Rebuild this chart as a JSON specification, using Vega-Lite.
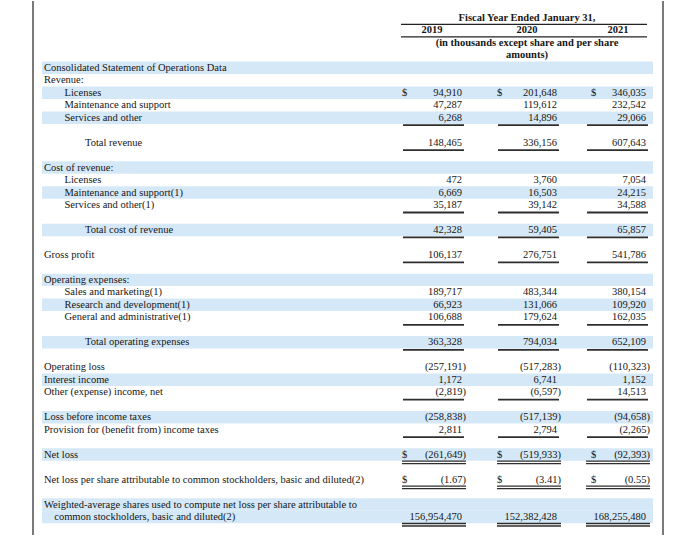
{
  "$schema": "https://vega.github.io/schema/vega-lite/v6.json",
  "width": 700,
  "height": 536,
  "autosize": {"type": "fit", "contains": "padding"},
  "padding": 0,
  "background": "#ffffff",
  "config": {
    "view": {"stroke": null},
    "axis": {"disable": true},
    "text": {"font": "Liberation Serif", "fontSize": 10.5, "color": "#161616", "baseline": "middle"}
  },
  "datasets": {
    "edges": [{"edge": "left"}, {"edge": "right"}],
    "shaded": [{"row": 4}, {"row": 6}, {"row": 8}, {"row": 12}, {"row": 14}, {"row": 17}, {"row": 21}, {"row": 23}, {"row": 26}, {"row": 29}, {"row": 32}, {"row": 35}, {"row": 39}, {"row": 40}],
    "header": [
      {"row": 0, "text": "Fiscal Year Ended January 31,", "col": 2020},
      {"row": 1, "text": "2019", "col": 2019},
      {"row": 1, "text": "2020", "col": 2020},
      {"row": 1, "text": "2021", "col": 2021},
      {"row": 2, "text": "(in thousands except share and per share", "col": 2020},
      {"row": 3, "text": "amounts)", "col": 2020}
    ],
    "headerRules": [{"row": 0}, {"row": 1}],
    "lines": [
      {"row": 4, "label": "Consolidated Statement of Operations Data", "indent": 0, "kind": "title"},
      {"row": 5, "label": "Revenue:", "indent": 0, "kind": "section"},
      {"row": 6, "label": "Licenses", "indent": 1, "kind": "item"},
      {"row": 7, "label": "Maintenance and support", "indent": 1, "kind": "item"},
      {"row": 8, "label": "Services and other", "indent": 1, "kind": "item"},
      {"row": 10, "label": "Total revenue", "indent": 2, "kind": "total"},
      {"row": 12, "label": "Cost of revenue:", "indent": 0, "kind": "section"},
      {"row": 13, "label": "Licenses", "indent": 1, "kind": "item"},
      {"row": 14, "label": "Maintenance and support(1)", "indent": 1, "kind": "item"},
      {"row": 15, "label": "Services and other(1)", "indent": 1, "kind": "item"},
      {"row": 17, "label": "Total cost of revenue", "indent": 2, "kind": "total"},
      {"row": 19, "label": "Gross profit", "indent": 0, "kind": "item"},
      {"row": 21, "label": "Operating expenses:", "indent": 0, "kind": "section"},
      {"row": 22, "label": "Sales and marketing(1)", "indent": 1, "kind": "item"},
      {"row": 23, "label": "Research and development(1)", "indent": 1, "kind": "item"},
      {"row": 24, "label": "General and administrative(1)", "indent": 1, "kind": "item"},
      {"row": 26, "label": "Total operating expenses", "indent": 2, "kind": "total"},
      {"row": 28, "label": "Operating loss", "indent": 0, "kind": "item"},
      {"row": 29, "label": "Interest income", "indent": 0, "kind": "item"},
      {"row": 30, "label": "Other (expense) income, net", "indent": 0, "kind": "item"},
      {"row": 32, "label": "Loss before income taxes", "indent": 0, "kind": "item"},
      {"row": 33, "label": "Provision for (benefit from) income taxes", "indent": 0, "kind": "item"},
      {"row": 35, "label": "Net loss", "indent": 0, "kind": "item"},
      {"row": 37, "label": "Net loss per share attributable to common stockholders, basic and diluted(2)", "indent": 0, "kind": "item"},
      {"row": 39, "label": "Weighted-average shares used to compute net loss per share attributable to", "indent": 0, "kind": "item"},
      {"row": 40, "label": "common stockholders, basic and diluted(2)", "indent": 0.5, "kind": "continuation"}
    ],
    "cells": [
      {"row": 6, "year": 2019, "value": 94910}, {"row": 6, "year": 2020, "value": 201648}, {"row": 6, "year": 2021, "value": 346035},
      {"row": 7, "year": 2019, "value": 47287}, {"row": 7, "year": 2020, "value": 119612}, {"row": 7, "year": 2021, "value": 232542},
      {"row": 8, "year": 2019, "value": 6268}, {"row": 8, "year": 2020, "value": 14896}, {"row": 8, "year": 2021, "value": 29066},
      {"row": 10, "year": 2019, "value": 148465}, {"row": 10, "year": 2020, "value": 336156}, {"row": 10, "year": 2021, "value": 607643},
      {"row": 13, "year": 2019, "value": 472}, {"row": 13, "year": 2020, "value": 3760}, {"row": 13, "year": 2021, "value": 7054},
      {"row": 14, "year": 2019, "value": 6669}, {"row": 14, "year": 2020, "value": 16503}, {"row": 14, "year": 2021, "value": 24215},
      {"row": 15, "year": 2019, "value": 35187}, {"row": 15, "year": 2020, "value": 39142}, {"row": 15, "year": 2021, "value": 34588},
      {"row": 17, "year": 2019, "value": 42328}, {"row": 17, "year": 2020, "value": 59405}, {"row": 17, "year": 2021, "value": 65857},
      {"row": 19, "year": 2019, "value": 106137}, {"row": 19, "year": 2020, "value": 276751}, {"row": 19, "year": 2021, "value": 541786},
      {"row": 22, "year": 2019, "value": 189717}, {"row": 22, "year": 2020, "value": 483344}, {"row": 22, "year": 2021, "value": 380154},
      {"row": 23, "year": 2019, "value": 66923}, {"row": 23, "year": 2020, "value": 131066}, {"row": 23, "year": 2021, "value": 109920},
      {"row": 24, "year": 2019, "value": 106688}, {"row": 24, "year": 2020, "value": 179624}, {"row": 24, "year": 2021, "value": 162035},
      {"row": 26, "year": 2019, "value": 363328}, {"row": 26, "year": 2020, "value": 794034}, {"row": 26, "year": 2021, "value": 652109},
      {"row": 28, "year": 2019, "value": -257191}, {"row": 28, "year": 2020, "value": -517283}, {"row": 28, "year": 2021, "value": -110323},
      {"row": 29, "year": 2019, "value": 1172}, {"row": 29, "year": 2020, "value": 6741}, {"row": 29, "year": 2021, "value": 1152},
      {"row": 30, "year": 2019, "value": -2819}, {"row": 30, "year": 2020, "value": -6597}, {"row": 30, "year": 2021, "value": 14513},
      {"row": 32, "year": 2019, "value": -258838}, {"row": 32, "year": 2020, "value": -517139}, {"row": 32, "year": 2021, "value": -94658},
      {"row": 33, "year": 2019, "value": 2811}, {"row": 33, "year": 2020, "value": 2794}, {"row": 33, "year": 2021, "value": -2265},
      {"row": 35, "year": 2019, "value": -261649}, {"row": 35, "year": 2020, "value": -519933}, {"row": 35, "year": 2021, "value": -92393},
      {"row": 37, "year": 2019, "value": -1.67, "unit": "per_share"}, {"row": 37, "year": 2020, "value": -3.41, "unit": "per_share"}, {"row": 37, "year": 2021, "value": -0.55, "unit": "per_share"},
      {"row": 40, "year": 2019, "value": 156954470}, {"row": 40, "year": 2020, "value": 152382428}, {"row": 40, "year": 2021, "value": 168255480}
    ],
    "dollars": [
      {"row": 6, "year": 2019}, {"row": 6, "year": 2020}, {"row": 6, "year": 2021},
      {"row": 35, "year": 2019}, {"row": 35, "year": 2020}, {"row": 35, "year": 2021},
      {"row": 37, "year": 2019}, {"row": 37, "year": 2020}, {"row": 37, "year": 2021}
    ],
    "underlines": [
      {"row": 8, "year": 2019, "style": "single"}, {"row": 8, "year": 2020, "style": "single"}, {"row": 8, "year": 2021, "style": "single"},
      {"row": 10, "year": 2019, "style": "single"}, {"row": 10, "year": 2020, "style": "single"}, {"row": 10, "year": 2021, "style": "single"},
      {"row": 15, "year": 2019, "style": "single"}, {"row": 15, "year": 2020, "style": "single"}, {"row": 15, "year": 2021, "style": "single"},
      {"row": 17, "year": 2019, "style": "single"}, {"row": 17, "year": 2020, "style": "single"}, {"row": 17, "year": 2021, "style": "single"},
      {"row": 19, "year": 2019, "style": "single"}, {"row": 19, "year": 2020, "style": "single"}, {"row": 19, "year": 2021, "style": "single"},
      {"row": 24, "year": 2019, "style": "single"}, {"row": 24, "year": 2020, "style": "single"}, {"row": 24, "year": 2021, "style": "single"},
      {"row": 26, "year": 2019, "style": "single"}, {"row": 26, "year": 2020, "style": "single"}, {"row": 26, "year": 2021, "style": "single"},
      {"row": 30, "year": 2019, "style": "single"}, {"row": 30, "year": 2020, "style": "single"}, {"row": 30, "year": 2021, "style": "single"},
      {"row": 33, "year": 2019, "style": "single"}, {"row": 33, "year": 2020, "style": "single"}, {"row": 33, "year": 2021, "style": "single"},
      {"row": 35, "year": 2019, "style": "double"}, {"row": 35, "year": 2020, "style": "double"}, {"row": 35, "year": 2021, "style": "double"},
      {"row": 37, "year": 2019, "style": "double"}, {"row": 37, "year": 2020, "style": "double"}, {"row": 37, "year": 2021, "style": "double"},
      {"row": 40, "year": 2019, "style": "double"}, {"row": 40, "year": 2020, "style": "double"}, {"row": 40, "year": 2021, "style": "double"}
    ]
  },
  "resolve": {"scale": {"x": "independent"}},
  "layer": [
    {
      "data": {"name": "shaded"},
      "mark": {"type": "rect", "color": "#d5e8f7", "xOffset": 9, "x2Offset": -10},
      "encoding": {
        "y": {"field": "row", "type": "ordinal", "scale": {"type": "band", "domain": [0,1,2,3,4,5,6,7,8,9,10,11,12,13,14,15,16,17,18,19,20,21,22,23,24,25,26,27,28,29,30,31,32,33,34,35,36,37,38,39,40], "range": [10.56, 522.24], "paddingInner": 0, "paddingOuter": 0}},
        "x": {"datum": "left", "type": "nominal", "scale": {"type": "point", "domain": ["left", "right"], "range": [33, 663], "padding": 0}},
        "x2": {"datum": "right"}
      }
    },
    {
      "data": {"name": "edges"},
      "mark": {"type": "rule", "color": "#7a7a7a", "strokeWidth": 2},
      "encoding": {
        "x": {"field": "edge", "type": "nominal", "scale": {"type": "point", "domain": ["left", "right"], "range": [33, 663], "padding": 0}}
      }
    },
    {
      "data": {"name": "headerRules"},
      "mark": {"type": "rule", "color": "#222222", "strokeWidth": 1.2, "xOffset": -61, "x2Offset": 1, "yOffset": 6.5},
      "encoding": {
        "y": {"field": "row", "type": "ordinal"},
        "x": {"datum": 2019, "type": "quantitative", "scale": {"type": "linear", "domain": [2019, 2020, 2021], "range": [462, 557, 646], "zero": false, "nice": false}},
        "x2": {"datum": 2021}
      }
    },
    {
      "data": {"name": "header"},
      "mark": {"type": "text", "align": "center", "fontWeight": "bold"},
      "encoding": {
        "y": {"field": "row", "type": "ordinal"},
        "x": {"field": "col", "type": "quantitative", "scale": {"type": "linear", "domain": [2019, 2020, 2021], "range": [432, 527, 618], "zero": false, "nice": false}},
        "text": {"field": "text"}
      }
    },
    {
      "data": {"name": "lines"},
      "mark": {"type": "text", "align": "left"},
      "encoding": {
        "y": {"field": "row", "type": "ordinal"},
        "x": {"field": "indent", "type": "quantitative", "scale": {"type": "linear", "domain": [0, 2], "range": [44, 85], "zero": false, "nice": false}},
        "text": {"field": "label"},
        "fontWeight": {"condition": {"test": "datum.kind === 'title'", "value": "bold"}, "value": "normal"}
      }
    },
    {
      "data": {"name": "dollars"},
      "mark": {"type": "text", "align": "left", "text": "$"},
      "encoding": {
        "y": {"field": "row", "type": "ordinal"},
        "x": {"field": "year", "type": "quantitative", "scale": {"type": "linear", "domain": [2019, 2020, 2021], "range": [402, 497, 591], "zero": false, "nice": false}}
      }
    },
    {
      "data": {"name": "cells"},
      "transform": [{"filter": "datum.value >= 0"}],
      "mark": {"type": "text", "align": "right"},
      "encoding": {
        "y": {"field": "row", "type": "ordinal"},
        "x": {"field": "year", "type": "quantitative", "scale": {"type": "linear", "domain": [2019, 2020, 2021], "range": [462, 557, 646], "zero": false, "nice": false}},
        "text": {"field": "value", "type": "quantitative", "format": ",.0f"}
      }
    },
    {
      "data": {"name": "cells"},
      "transform": [{"filter": "datum.value < 0 && datum.unit !== 'per_share'"}],
      "mark": {"type": "text", "align": "right", "dx": 4},
      "encoding": {
        "y": {"field": "row", "type": "ordinal"},
        "x": {"field": "year", "type": "quantitative", "scale": {"type": "linear", "domain": [2019, 2020, 2021], "range": [462, 557, 646], "zero": false, "nice": false}},
        "text": {"field": "value", "type": "quantitative", "format": "(,.0f"}
      }
    },
    {
      "data": {"name": "cells"},
      "transform": [{"filter": "datum.unit === 'per_share'"}],
      "mark": {"type": "text", "align": "right", "dx": 4},
      "encoding": {
        "y": {"field": "row", "type": "ordinal"},
        "x": {"field": "year", "type": "quantitative", "scale": {"type": "linear", "domain": [2019, 2020, 2021], "range": [462, 557, 646], "zero": false, "nice": false}},
        "text": {"field": "value", "type": "quantitative", "format": "(,.2f"}
      }
    },
    {
      "data": {"name": "underlines"},
      "transform": [{"filter": "datum.style === 'single'"}],
      "mark": {"type": "rule", "color": "#2e2e2e", "strokeWidth": 1.8, "xOffset": -59, "x2Offset": 2, "yOffset": 7.5},
      "encoding": {
        "y": {"field": "row", "type": "ordinal"},
        "x": {"field": "year", "type": "quantitative", "scale": {"type": "linear", "domain": [2019, 2020, 2021], "range": [462, 557, 646], "zero": false, "nice": false}},
        "x2": {"field": "year"}
      }
    },
    {
      "data": {"name": "underlines"},
      "transform": [{"filter": "datum.style === 'double'"}],
      "mark": {"type": "rule", "color": "#2e2e2e", "strokeWidth": 1.3, "xOffset": -60, "x2Offset": 4, "yOffset": 6.5},
      "encoding": {
        "y": {"field": "row", "type": "ordinal"},
        "x": {"field": "year", "type": "quantitative", "scale": {"type": "linear", "domain": [2019, 2020, 2021], "range": [462, 557, 646], "zero": false, "nice": false}},
        "x2": {"field": "year"}
      }
    },
    {
      "data": {"name": "underlines"},
      "transform": [{"filter": "datum.style === 'double'"}],
      "mark": {"type": "rule", "color": "#2e2e2e", "strokeWidth": 1.3, "xOffset": -60, "x2Offset": 4, "yOffset": 9},
      "encoding": {
        "y": {"field": "row", "type": "ordinal"},
        "x": {"field": "year", "type": "quantitative", "scale": {"type": "linear", "domain": [2019, 2020, 2021], "range": [462, 557, 646], "zero": false, "nice": false}},
        "x2": {"field": "year"}
      }
    }
  ]
}
